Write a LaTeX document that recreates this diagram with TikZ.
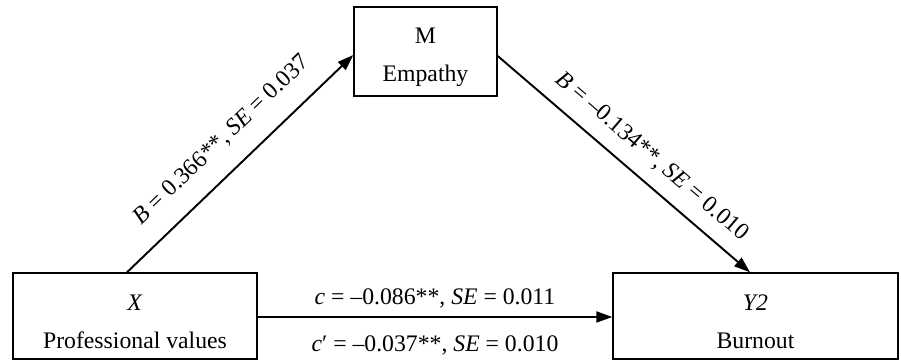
\documentclass[tikz,border=0pt]{standalone}
\usepackage{fontspec}
\setmainfont{Liberation Serif}
\usetikzlibrary{arrows.meta}
\newcommand{\boxtop}{\rule{0pt}{0.56cm}}
\begin{document}
\begin{tikzpicture}[
		every node/.style={font=\fontsize{13.5}{21.6}\selectfont},
		varbox/.style={draw, line width=0.8pt, inner sep=0pt, align=center},
		effect/.style={line width=1.1pt, -{Triangle[length=3.2mm,width=2.2mm]}}
	]
	\useasboundingbox (0,0) rectangle (18.02,7.2);

	% Nodes
	\node[varbox, minimum width=4.88cm, minimum height=1.72cm] (x) at (2.70,0.88) {\boxtop\textit{X}\\Professional values};
	\node[varbox, minimum width=2.86cm, minimum height=1.78cm] (m) at (8.51,6.17) {\boxtop M\\Empathy};
	\node[varbox, minimum width=5.70cm, minimum height=1.72cm] (y) at (15.11,0.88) {\boxtop\textit{Y2}\\Burnout};

	% Connections
	\draw[effect] ([xshift=-0.16cm]x.north) -- ([yshift=-0.07cm]m.west)
		node[pos=0.51, sloped, above=2.6mm] (ab) {\textit{B} = 0.366**, \textit{SE} = 0.037};
	\draw[effect] ([yshift=-0.09cm]m.east) -- ([xshift=-0.11cm]y.north)
		node[pos=0.55, sloped, above=1.5mm] (bb) {\textit{B} = –0.134**, \textit{SE} = 0.010};
	\draw[effect] ([yshift=-0.02cm]x.east) -- ([yshift=-0.02cm]y.west)
		node[midway, above=0.4mm] (cb) {\textit{c} = –0.086**, \textit{SE} = 0.011}
		node[midway, below=2.4mm] (cp) {\textit{c}′ = –0.037**, \textit{SE} = 0.010};
\end{tikzpicture}
\end{document}
